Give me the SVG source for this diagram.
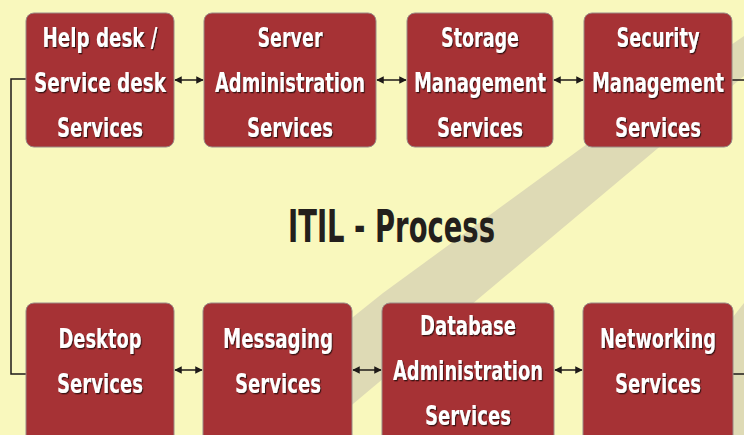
<svg xmlns="http://www.w3.org/2000/svg" width="744" height="435" viewBox="0 0 744 435">
  <defs>
    <style>
      .box { fill: #A63235; stroke: #9a8a86; stroke-width: 1; }
      .lbl { font-family: "DejaVu Sans Condensed", "Liberation Sans Narrow", "Liberation Sans", sans-serif; font-weight: bold; font-size: 21px; fill: #ffffff; text-anchor: middle; filter: url(#sh); }
      .title { font-family: "DejaVu Sans Condensed", "Liberation Sans Narrow", "Liberation Sans", sans-serif; font-weight: bold; font-size: 44px; fill: #231f1c; }
      .conn { stroke: #1e1a18; stroke-width: 1.5; fill: none; }
      .dbl { marker-start: url(#ah); marker-end: url(#ah); }
    </style>
    <filter id="sh" x="-10%" y="-20%" width="120%" height="150%">
      <feDropShadow dx="1.1" dy="1" stdDeviation="0.4" flood-color="#2a0808" flood-opacity="0.85"/>
    </filter>
    <marker id="ah" viewBox="0 0 10 10" refX="9" refY="5" markerWidth="5" markerHeight="5" orient="auto-start-reverse" markerUnits="strokeWidth">
      <path d="M0,0 L10,5 L0,10 z" fill="#1e1a18"/>
    </marker>
  </defs>

  <rect x="0" y="0" width="744" height="435" fill="#F9F8BD"/>
  <polygon points="744,36 583,147 383,293 353,317 215,435 316,435 744,76" fill="#DEDAB5"/>
  <polygon points="744,303 744,435 640,435" fill="#DEDAB5"/>

  <text class="title" x="288" y="242" textLength="207" lengthAdjust="spacingAndGlyphs">ITIL - Process</text>

  <g id="connectors">
    <line class="conn dbl" x1="175" y1="80" x2="203" y2="80"/>
    <line class="conn dbl" x1="377" y1="80" x2="406" y2="80"/>
    <line class="conn dbl" x1="554" y1="80" x2="583" y2="80"/>
    <line class="conn dbl" x1="175" y1="370" x2="202" y2="370"/>
    <line class="conn dbl" x1="353" y1="370" x2="381" y2="370"/>
    <line class="conn dbl" x1="555" y1="370" x2="582" y2="370"/>
    <polyline class="conn" points="26,79 11,79 11,374 26,374"/>
    <line class="conn" x1="732" y1="80" x2="744" y2="80"/>
    <line class="conn" x1="733" y1="374" x2="744" y2="374"/>
  </g>

  <g id="helpdesk">
    <rect class="box" x="26" y="13" width="148" height="134" rx="8"/>
    <text class="lbl" transform="translate(100,47) scale(1,1.286)" textLength="115" lengthAdjust="spacingAndGlyphs">Help desk /</text>
    <text class="lbl" transform="translate(100,92) scale(1,1.286)" textLength="132" lengthAdjust="spacingAndGlyphs">Service desk</text>
    <text class="lbl" transform="translate(100,137) scale(1,1.286)" textLength="86" lengthAdjust="spacingAndGlyphs">Services</text>
  </g>
  <g id="server">
    <rect class="box" x="204" y="13" width="172" height="134" rx="8"/>
    <text class="lbl" transform="translate(290,47) scale(1,1.286)" textLength="65" lengthAdjust="spacingAndGlyphs">Server</text>
    <text class="lbl" transform="translate(290,92) scale(1,1.286)" textLength="150" lengthAdjust="spacingAndGlyphs">Administration</text>
    <text class="lbl" transform="translate(290,137) scale(1,1.286)" textLength="86" lengthAdjust="spacingAndGlyphs">Services</text>
  </g>
  <g id="storage">
    <rect class="box" x="407" y="13" width="146" height="134" rx="8"/>
    <text class="lbl" transform="translate(480,47) scale(1,1.286)" textLength="78" lengthAdjust="spacingAndGlyphs">Storage</text>
    <text class="lbl" transform="translate(480,92) scale(1,1.286)" textLength="132" lengthAdjust="spacingAndGlyphs">Management</text>
    <text class="lbl" transform="translate(480,137) scale(1,1.286)" textLength="86" lengthAdjust="spacingAndGlyphs">Services</text>
  </g>
  <g id="security">
    <rect class="box" x="584" y="13" width="148" height="134" rx="8"/>
    <text class="lbl" transform="translate(658,47) scale(1,1.286)" textLength="83" lengthAdjust="spacingAndGlyphs">Security</text>
    <text class="lbl" transform="translate(658,92) scale(1,1.286)" textLength="132" lengthAdjust="spacingAndGlyphs">Management</text>
    <text class="lbl" transform="translate(658,137) scale(1,1.286)" textLength="86" lengthAdjust="spacingAndGlyphs">Services</text>
  </g>

  <g id="desktop">
    <rect class="box" x="26" y="303" width="148" height="140" rx="8"/>
    <text class="lbl" transform="translate(100,348) scale(1,1.286)" textLength="83" lengthAdjust="spacingAndGlyphs">Desktop</text>
    <text class="lbl" transform="translate(100,393) scale(1,1.286)" textLength="86" lengthAdjust="spacingAndGlyphs">Services</text>
  </g>
  <g id="messaging">
    <rect class="box" x="203" y="303" width="149" height="140" rx="8"/>
    <text class="lbl" transform="translate(278,348) scale(1,1.286)" textLength="110" lengthAdjust="spacingAndGlyphs">Messaging</text>
    <text class="lbl" transform="translate(278,393) scale(1,1.286)" textLength="86" lengthAdjust="spacingAndGlyphs">Services</text>
  </g>
  <g id="database">
    <rect class="box" x="382" y="303" width="172" height="140" rx="8"/>
    <text class="lbl" transform="translate(468,335) scale(1,1.286)" textLength="96" lengthAdjust="spacingAndGlyphs">Database</text>
    <text class="lbl" transform="translate(468,380) scale(1,1.286)" textLength="150" lengthAdjust="spacingAndGlyphs">Administration</text>
    <text class="lbl" transform="translate(468,425) scale(1,1.286)" textLength="86" lengthAdjust="spacingAndGlyphs">Services</text>
  </g>
  <g id="networking">
    <rect class="box" x="583" y="303" width="150" height="140" rx="8"/>
    <text class="lbl" transform="translate(658,348) scale(1,1.286)" textLength="116" lengthAdjust="spacingAndGlyphs">Networking</text>
    <text class="lbl" transform="translate(658,393) scale(1,1.286)" textLength="86" lengthAdjust="spacingAndGlyphs">Services</text>
  </g>
</svg>
